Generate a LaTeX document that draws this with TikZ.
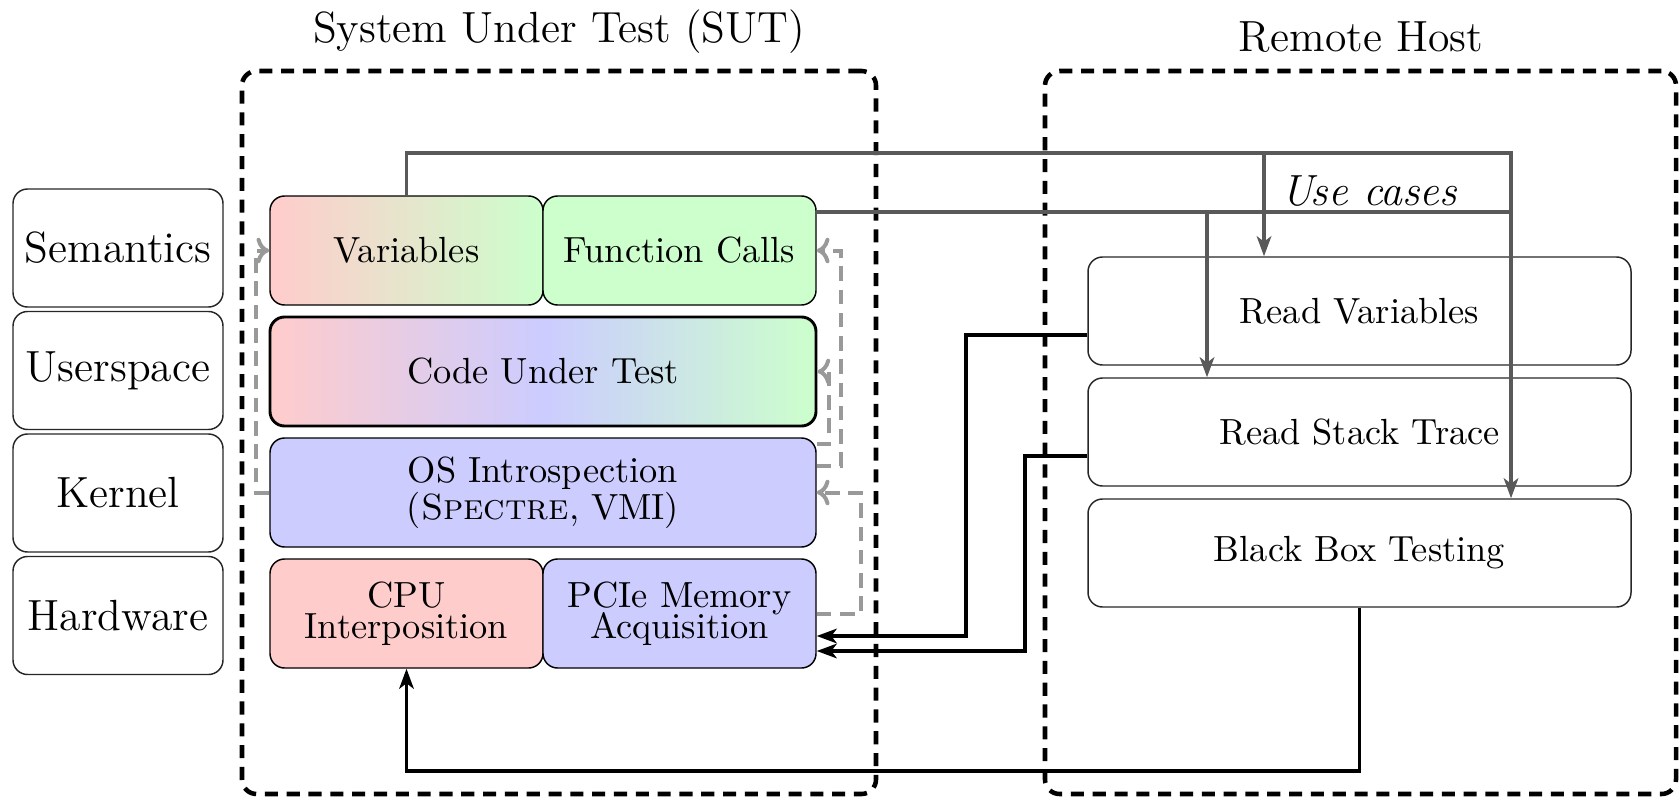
\documentclass[tikz,border=0pt]{standalone}
\usetikzlibrary{arrows.meta}

% one drawing unit
\newcommand{\upx}{0.275pt}

\begin{document}
\begin{tikzpicture}[x=\upx, y=-\upx,
  layerbox/.style={draw=black!85, rounded corners=4pt, inner sep=0pt,
    minimum width=210*\upx, minimum height=118*\upx, font=\large},
  sutblock/.style={draw=black, rounded corners=4pt, inner sep=0pt, align=center},
  halfblock/.style={sutblock, minimum width=273*\upx, minimum height=109*\upx},
  wideblock/.style={sutblock, minimum width=546*\upx, minimum height=109*\upx},
  usebox/.style={draw=black!85, rounded corners=4pt, inner sep=0pt,
    minimum width=543*\upx, minimum height=108*\upx},
  hostframe/.style={draw=black, line width=1.25pt, dash pattern=on 3.6pt off 2.4pt,
    rounded corners=4pt, inner sep=0pt},
  usecase/.style={draw=black!65, line width=0.95pt, -{Stealth[length=5.5pt,width=4pt,inset=1.5pt]}},
  usebare/.style={draw=black!65, line width=0.95pt},
  feed/.style={draw=black, line width=0.95pt, -{Stealth[length=5.5pt,width=4pt,inset=1.5pt]}},
  probe/.style={draw=black!40, line width=1.1pt, dash pattern=on 4pt off 2.4pt, -{To[length=3.5pt,width=7pt]}}
]
\useasboundingbox (0,0) rectangle (1680,797);

% abstraction layers
\node[layerbox] (sem) at (118,248) {Semantics};
\node[layerbox] (usr) at (118,370.5) {Userspace};
\node[layerbox] (ker) at (118,493) {Kernel};
\node[layerbox] (hw)  at (118,615.5) {Hardware};

% the two machines
\node[hostframe, minimum width=634*\upx, minimum height=723*\upx] (sut) at (559,432.5) {};
\node[hostframe, minimum width=631*\upx, minimum height=723*\upx] (rem) at (1360.5,432.5) {};
\node[font=\large, anchor=base] (suttitle) at (559,43) {System Under Test (SUT)};
\node[font=\large, anchor=base] (remtitle) at (1361,52) {Remote Host};

% SUT stack
\node[halfblock, left color=red!20, right color=green!20] (var) at (406.5,250.5) {Variables};
\node[halfblock, fill=green!20] (fc) at (679.5,250.5) {Function Calls};
\node[wideblock, thick, left color=red!20, right color=green!20, middle color=blue!20] (cut) at (543,371.5) {Code Under Test};
\node[wideblock, fill=blue!20] (os) at (543,492.5) {OS Introspection\\[-1.7pt](\textsc{Spectre}, VMI)};
\node[halfblock, fill=red!20] (cpu) at (406.5,613.5) {CPU\\[-3.5pt]Interposition};
\node[halfblock, fill=blue!20] (pcie) at (679.5,613.5) {PCIe Memory\\[-3.5pt]Acquisition};

% remote use cases
\node[usebox] (rv)  at (1359.5,311) {Read Variables};
\node[usebox] (rst) at (1359.5,432) {Read Stack Trace};
\node[usebox] (bbt) at (1359.5,553) {Black Box Testing};
\node[font=\large\itshape, anchor=base] (uc) at (1369,205) {Use cases};

% use-case wiring
\coordinate (ucTop) at (1511,153);
\coordinate (ucMid) at (1511,212);
\coordinate (rvIn) at (1264,153);
\coordinate (rstIn) at (1207,212);
\draw[usecase] (var.north) |- (ucTop) -- (ucTop |- bbt.north);
\draw[usecase] (rvIn) -- (rvIn |- rv.north);
\draw[usebare] (fc.east |- ucMid) -- (ucMid);
\draw[usecase] (rstIn) -- (rstIn |- rst.north);

% access paths back into the SUT
\coordinate (rvBend) at (966,636);
\coordinate (rstBend) at (1025,651);
\coordinate (bbBend) at (406.5,771);
\draw[feed] ([yshift=-24*\upx]rv.west) -| (rvBend) -- (rvBend -| pcie.east);
\draw[feed] ([yshift=-24*\upx]rst.west) -| (rstBend) -- (rstBend -| pcie.east);
\draw[feed] (bbt.south) |- (bbBend) -- (cpu.south);

% introspection dependencies
\draw[probe] (os.west) -- ++(-13,0) |- (var.west);
\draw[probe] ([yshift=-7*\upx]os.north east) -- ++(12,0) |- (cut.east);
\draw[probe] ([yshift=-29*\upx]os.north east) -- ++(24,0) |- (fc.east);
\draw[probe] (pcie.east) -- ++(44,0) |- (os.east);
\end{tikzpicture}
\end{document}
